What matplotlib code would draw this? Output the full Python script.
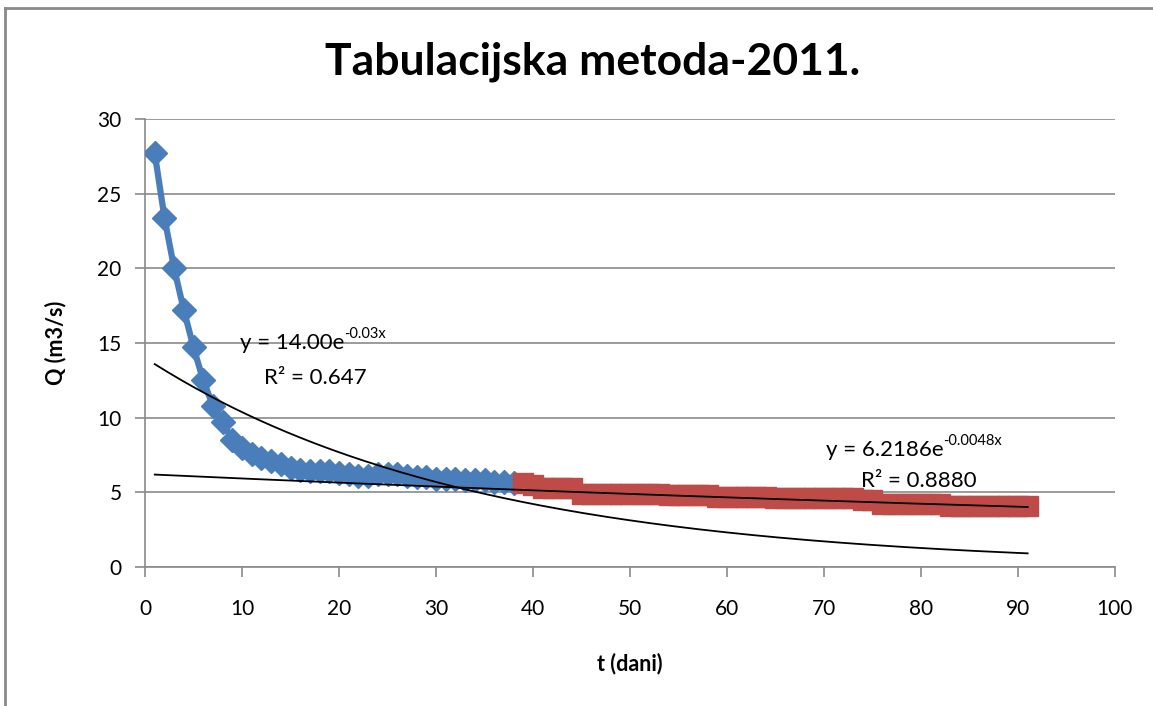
import numpy as np
import matplotlib.pyplot as plt
from matplotlib.lines import Line2D

plt.rcParams['font.family'] = ['Lato', 'DejaVu Sans']

# blue series: first 38 days
t_blue = list(range(1, 39))
q_blue = [27.7, 23.4, 20.0, 17.2, 14.7, 12.5, 10.8, 9.7, 8.5, 8.0,
          7.6, 7.3, 7.1, 6.9, 6.6, 6.5, 6.4, 6.4, 6.4, 6.3,
          6.2, 6.1, 6.1, 6.2, 6.2, 6.2, 6.1, 6.0, 6.0, 5.9,
          5.9, 5.9, 5.8, 5.8, 5.8, 5.7, 5.7, 5.6]

# red series: days 39 - 91
t_red = list(range(39, 92))
q_red = [5.6, 5.5, 5.3, 5.3, 5.3, 5.3, 4.9, 4.9, 4.9,
         4.9, 4.9, 4.9, 4.9, 4.9, 4.9, 4.8, 4.8, 4.8, 4.8,
         4.8, 4.7, 4.7, 4.7, 4.7, 4.7, 4.7, 4.6, 4.6, 4.6,
         4.6, 4.6, 4.6, 4.6, 4.6, 4.6, 4.5, 4.5, 4.2, 4.2,
         4.2, 4.2, 4.2, 4.2, 4.2, 4.1, 4.1, 4.1, 4.1, 4.1,
         4.1, 4.1, 4.1, 4.1]

# trendline coefficients (as shown on chart)
a1, b1 = 14.00, -0.03
a2, b2 = 6.2186, -0.0048

fig = plt.figure(figsize=(11.53, 7.06), dpi=100)
ax = fig.add_axes([0.1258, 0.1969, 0.8412, 0.6345])

ax.plot(t_blue, q_blue, color='#4a7ebb', lw=4.5, marker='D', ms=12,
        mec='#4a7ebb', zorder=3)
ax.plot(t_red, q_red, color='#be4b48', lw=4.5, marker='s', ms=14,
        mec='#be4b48', zorder=3)

tt = np.linspace(1, 91, 200)
ax.plot(tt, a1 * np.exp(b1 * tt), color='black', lw=1.3, zorder=4)
ax.plot(tt, a2 * np.exp(b2 * tt), color='black', lw=1.3, zorder=4)

ax.set_xlim(0, 100)
ax.set_ylim(0, 30)
ax.set_xticks(range(0, 101, 10))
ax.set_yticks(range(0, 31, 5))
ax.yaxis.grid(True, color='#8a8a8a', lw=1.2)
ax.set_axisbelow(True)
for s in ['top', 'right']:
    ax.spines[s].set_visible(False)
for s in ['left', 'bottom']:
    ax.spines[s].set_color('#8a8a8a')
    ax.spines[s].set_linewidth(1.2)
ax.tick_params(axis='both', colors='#8a8a8a', labelcolor='black',
               labelsize=15, length=7, width=1.2)
ax.tick_params(axis='x', pad=16)
ax.tick_params(axis='y', pad=10)

ax.set_xlabel('t (dani)', fontsize=15.5, fontweight='bold', labelpad=24)
ax.set_ylabel('Q (m3/s)', fontsize=15.5, fontweight='bold', labelpad=22)
fig.text(0.514, 0.912, 'Tabulacijska metoda-2011.', ha='center', va='center',
         fontsize=32, fontweight='bold')

# trendline labels (base text + superscript)
t1 = ax.text(9.8, 15.0, 'y = 14.00e', fontsize=16, ha='left', va='center', zorder=5)
ax.annotate('-0.03x', xy=(1, 0.6), xycoords=t1, fontsize=10.5,
            ha='left', va='bottom', zorder=5)
ax.text(17.6, 12.66, 'R² = 0.647', fontsize=16, ha='center', va='center', zorder=5)
t2 = ax.text(70.2, 7.84, 'y = 6.2186e', fontsize=16, ha='left', va='center', zorder=5)
ax.annotate('-0.0048x', xy=(1, 0.6), xycoords=t2, fontsize=10.5,
            ha='left', va='bottom', zorder=5)
ax.text(79.8, 5.76, 'R² = 0.8880', fontsize=16, ha='center', va='center', zorder=5)

# chart area border
fig.add_artist(Line2D([0.0045, 1.0], [0.988, 0.988], color='#8a8a8a', lw=2,
                      transform=fig.transFigure))
fig.add_artist(Line2D([0.0045, 0.0045], [0.0, 0.988], color='#8a8a8a', lw=2,
                      transform=fig.transFigure))

fig.savefig('out.png', dpi=100)
